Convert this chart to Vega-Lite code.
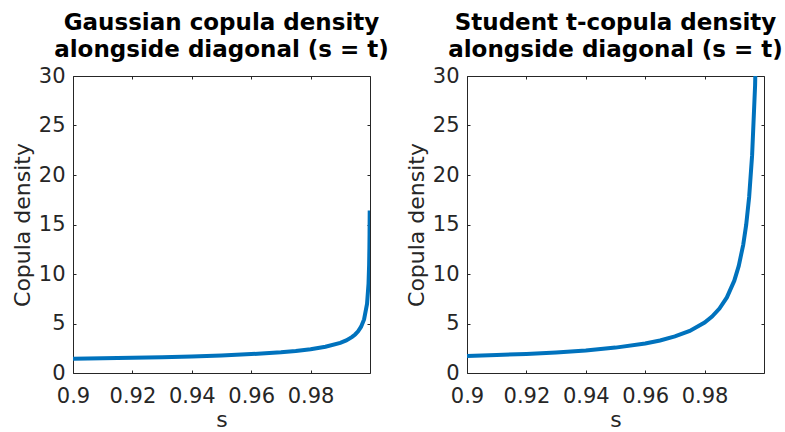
{
  "$schema": "https://vega.github.io/schema/vega-lite/v6.json",
  "background": "white",
  "padding": {"left": 11, "top": 12, "right": 5, "bottom": 0},
  "spacing": 16,
  "config": {
    "font": "DejaVu Sans",
    "view": {"stroke": null},
    "axis": {
      "domainColor": "#262626", "tickColor": "#262626", "labelColor": "#262626", "titleColor": "#262626",
      "labelFont": "DejaVu Sans", "titleFont": "DejaVu Sans", "labelFontSize": 21, "titleFontSize": 22,
      "titleFontWeight": "normal", "grid": false, "tickSize": -3, "domainWidth": 1, "labelPadding": 11, "labelAngle": 0,
      "labelFlush": false, "labelOverlap": false, "labelBound": false
    },
    "axisBottom": {"labelPadding": 15, "titlePadding": 3},
    "title": {"font": "DejaVu Sans", "fontSize": 23, "fontWeight": "bold", "color": "#000000", "lineHeight": 27, "anchor": "middle", "offset": 3}
  },
  "datasets": {
    "gauss": [
      {"s": 0.90, "density": 1.434}, {"s": 0.91, "density": 1.480}, {"s": 0.92, "density": 1.533},
      {"s": 0.93, "density": 1.597}, {"s": 0.94, "density": 1.675}, {"s": 0.95, "density": 1.774},
      {"s": 0.96, "density": 1.907}, {"s": 0.97, "density": 2.095}, {"s": 0.975, "density": 2.227},
      {"s": 0.98, "density": 2.401}, {"s": 0.985, "density": 2.649}, {"s": 0.99, "density": 3.048},
      {"s": 0.992, "density": 3.296}, {"s": 0.994, "density": 3.649}, {"s": 0.995, "density": 3.893},
      {"s": 0.996, "density": 4.216}, {"s": 0.997, "density": 4.676}, {"s": 0.998, "density": 5.415},
      {"s": 0.999, "density": 6.974}, {"s": 0.9995, "density": 9.005}, {"s": 0.9997, "density": 10.88},
      {"s": 0.9998, "density": 12.66}, {"s": 0.99985, "density": 14.10}, {"s": 0.9999, "density": 16.42}
    ],
    "tcop": [
      {"s": 0.90, "density": 1.720}, {"s": 0.91, "density": 1.814}, {"s": 0.92, "density": 1.931},
      {"s": 0.93, "density": 2.082}, {"s": 0.94, "density": 2.283}, {"s": 0.95, "density": 2.565},
      {"s": 0.96, "density": 2.988}, {"s": 0.965, "density": 3.289}, {"s": 0.97, "density": 3.692},
      {"s": 0.975, "density": 4.255}, {"s": 0.98, "density": 5.100}, {"s": 0.9825, "density": 5.704},
      {"s": 0.985, "density": 6.508}, {"s": 0.9875, "density": 7.635}, {"s": 0.99, "density": 9.325},
      {"s": 0.9915, "density": 10.82}, {"s": 0.993, "density": 12.95}, {"s": 0.994, "density": 14.96},
      {"s": 0.995, "density": 17.78}, {"s": 0.996, "density": 22.0}, {"s": 0.997, "density": 29.04},
      {"s": 0.998, "density": 43.1}, {"s": 0.999, "density": 85.4}
    ]
  },
  "hconcat": [
    {
      "width": 297, "height": 297,
      "title": {"text": ["Gaussian copula density", "alongside diagonal (s = t)"]},
      "data": {"name": "gauss"},
      "resolve": {"axis": {"x": "independent", "y": "independent"}},
      "layer": [
        {
          "mark": {"type": "line", "color": "#0072BD", "strokeWidth": 4, "clip": true},
          "encoding": {
            "x": {"field": "s", "type": "quantitative", "scale": {"domain": [0.9, 1], "nice": false}, "axis": {"values": [0.9, 0.92, 0.94, 0.96, 0.98], "format": "~g", "title": "s"}},
            "y": {"field": "density", "type": "quantitative", "scale": {"domain": [0, 30], "nice": false}, "axis": {"values": [0, 5, 10, 15, 20, 25, 30], "title": "Copula density"}}
          }
        },
        {
          "mark": {"type": "line", "strokeOpacity": 0, "clip": true},
          "encoding": {
            "x": {"field": "s", "type": "quantitative", "axis": {"orient": "top", "values": [0.9, 0.92, 0.94, 0.96, 0.98], "labels": false, "title": null}},
            "y": {"field": "density", "type": "quantitative", "axis": {"orient": "right", "values": [0, 5, 10, 15, 20, 25, 30], "labels": false, "title": null}}
          }
        }
      ]
    },
    {
      "width": 297, "height": 297,
      "title": {"text": ["Student t-copula density", "alongside diagonal (s = t)"]},
      "data": {"name": "tcop"},
      "resolve": {"axis": {"x": "independent", "y": "independent"}},
      "layer": [
        {
          "mark": {"type": "line", "color": "#0072BD", "strokeWidth": 4, "clip": true},
          "encoding": {
            "x": {"field": "s", "type": "quantitative", "scale": {"domain": [0.9, 1], "nice": false}, "axis": {"values": [0.9, 0.92, 0.94, 0.96, 0.98], "format": "~g", "title": "s"}},
            "y": {"field": "density", "type": "quantitative", "scale": {"domain": [0, 30], "nice": false}, "axis": {"values": [0, 5, 10, 15, 20, 25, 30], "title": "Copula density"}}
          }
        },
        {
          "mark": {"type": "line", "strokeOpacity": 0, "clip": true},
          "encoding": {
            "x": {"field": "s", "type": "quantitative", "axis": {"orient": "top", "values": [0.9, 0.92, 0.94, 0.96, 0.98], "labels": false, "title": null}},
            "y": {"field": "density", "type": "quantitative", "axis": {"orient": "right", "values": [0, 5, 10, 15, 20, 25, 30], "labels": false, "title": null}}
          }
        }
      ]
    }
  ]
}
